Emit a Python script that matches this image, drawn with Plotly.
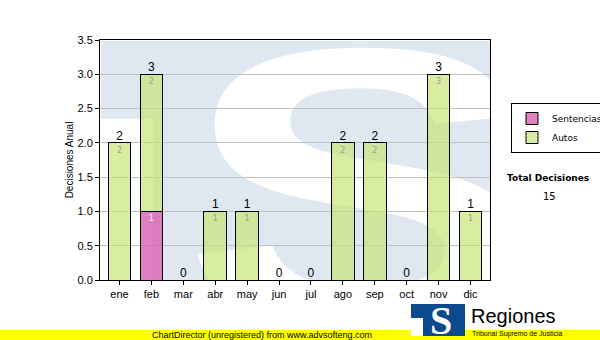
import base64
import plotly.graph_objects as go

months = ["ene", "feb", "mar", "abr", "may", "jun", "jul", "ago", "sep", "oct", "nov", "dic"]
sentencias = [0, 1, 0, 0, 0, 0, 0, 0, 0, 0, 0, 0]
autos = [2, 2, 0, 1, 1, 0, 0, 2, 2, 0, 3, 1]
totals = [s + a for s, a in zip(sentencias, autos)]
total_decisiones = sum(totals)

W, H = 600, 340
L, R, T, B = 100, 110, 40, 60
PW, PH = W - L - R, H - T - B


def px(x):
    return (x - L) / PW


def py(y):
    return (H - B - y) / PH


svg = f'''<svg xmlns="http://www.w3.org/2000/svg" width="{PW}" height="{PH}" viewBox="0 0 {PW} {PH}" preserveAspectRatio="none">
<rect x="0" y="0" width="{PW}" height="{PH}" fill="#dfe8f1"/>
<rect x="0" y="78" width="52" height="{PH}" fill="#ffffff"/>
<text transform="scale(1.35,1)" x="60" y="286" font-family="Liberation Sans, Arial, sans-serif" font-weight="bold" font-size="400" fill="#ffffff">S</text>
</svg>'''
svg_uri = "data:image/svg+xml;base64," + base64.b64encode(svg.encode()).decode()

logo_svg = '''<svg xmlns="http://www.w3.org/2000/svg" width="54" height="32" viewBox="0 0 54 32">
<rect x="0" y="0" width="54" height="32" fill="#0b4a8c"/>
<rect x="0" y="14" width="12" height="18" fill="#ffffff"/>
<text x="30" y="30" text-anchor="middle" font-family="Liberation Serif, serif" font-weight="bold" font-size="40" fill="#ffffff">S</text>
</svg>'''
logo_uri = "data:image/svg+xml;base64," + base64.b64encode(logo_svg.encode()).decode()

fig = go.Figure()
fig.add_trace(go.Bar(
    x=months, y=sentencias, name="Sentencias",
    marker=dict(color="rgba(216,96,178,0.8)", line=dict(color="black", width=1)),
    text=[str(v) if v else "" for v in sentencias], textposition="inside",
    insidetextanchor="end", textfont=dict(size=8, color="white", family="DejaVu Sans"),
    hoverinfo="skip",
))
fig.add_trace(go.Bar(
    x=months, y=autos, name="Autos",
    marker=dict(color="rgba(196,228,110,0.65)", line=dict(color="black", width=1)),
    text=[str(v) if v else "" for v in autos], textposition="inside",
    insidetextanchor="end", textfont=dict(size=8, color="#9a9a9a", family="DejaVu Sans"),
    hoverinfo="skip",
))
fig.add_trace(go.Scatter(
    x=months, y=totals, mode="text", text=[str(t) for t in totals],
    textposition="top center", textfont=dict(size=12, color="black", family="Liberation Sans"),
    showlegend=False, cliponaxis=False, hoverinfo="skip",
))

fig.update_layout(
    width=W, height=H,
    margin=dict(l=L, r=R, t=T, b=B, autoexpand=False),
    paper_bgcolor="white", plot_bgcolor="rgba(0,0,0,0)",
    barmode="stack", bargap=0.29,
    font=dict(family="Liberation Sans", size=11, color="black"),
    showlegend=True,
    legend=dict(
        x=px(511), y=py(103), xanchor="left", yanchor="top",
        bordercolor="black", borderwidth=1, bgcolor="rgba(0,0,0,0)",
        font=dict(family="DejaVu Sans", size=9), traceorder="normal",
        itemwidth=30, tracegroupgap=0,
    ),
    xaxis=dict(
        showline=True, linecolor="black", linewidth=1, mirror=True,
        ticks="outside", ticklen=4, tickcolor="black", showgrid=False,
        tickfont=dict(size=11),
    ),
    yaxis=dict(
        range=[0, 3.5], dtick=0.5, tickformat=".1f",
        showline=True, linecolor="black", linewidth=1, mirror=True,
        ticks="outside", ticklen=4, tickcolor="black",
        showgrid=True, gridcolor="#c0c0c0", gridwidth=1, zeroline=False,
        title=dict(text="Decisiones Anual", font=dict(size=10), standoff=2),
        tickfont=dict(size=11),
    ),
    images=[
        dict(source=svg_uri, xref="paper", yref="paper", x=px(101), y=py(41),
             sizex=(490 - 101) / PW, sizey=(280 - 41) / PH, sizing="stretch",
             xanchor="left", yanchor="top", layer="below"),
        dict(source=logo_uri, xref="paper", yref="paper", x=px(411), y=py(304),
             sizex=54 / PW, sizey=32 / PH, sizing="stretch",
             xanchor="left", yanchor="top", layer="above"),
    ],
    shapes=[
        dict(type="rect", xref="paper", yref="paper", x0=px(0), x1=px(600),
             y0=py(340), y1=py(330), fillcolor="#ffff00", line=dict(width=0), layer="below"),
    ],
    annotations=[
        dict(text="ChartDirector (unregistered) from www.advsofteng.com", xref="paper", yref="paper",
             x=px(262), y=py(335), showarrow=False, xanchor="center", yanchor="middle",
             font=dict(family="Liberation Sans", size=9, color="black")),
        dict(text="Regiones", xref="paper", yref="paper", x=px(469), y=py(316),
             showarrow=False, xanchor="left", yanchor="middle",
             font=dict(family="Liberation Sans", size=20, color="black")),
        dict(text="Tribunal Supremo de Justicia", xref="paper", yref="paper", x=px(470), y=py(334),
             showarrow=False, xanchor="left", yanchor="middle",
             font=dict(family="Liberation Sans", size=7, color="black")),
        dict(text="<b>Total Decisiones</b>", xref="paper", yref="paper", x=px(548), y=py(178),
             showarrow=False, xanchor="center", yanchor="middle",
             font=dict(family="DejaVu Sans", size=9, color="black")),
        dict(text=str(total_decisiones), xref="paper", yref="paper", x=px(549), y=py(196),
             showarrow=False, xanchor="center", yanchor="middle",
             font=dict(family="DejaVu Sans", size=10, color="black")),
    ],
)

fig.write_html("out.html")
